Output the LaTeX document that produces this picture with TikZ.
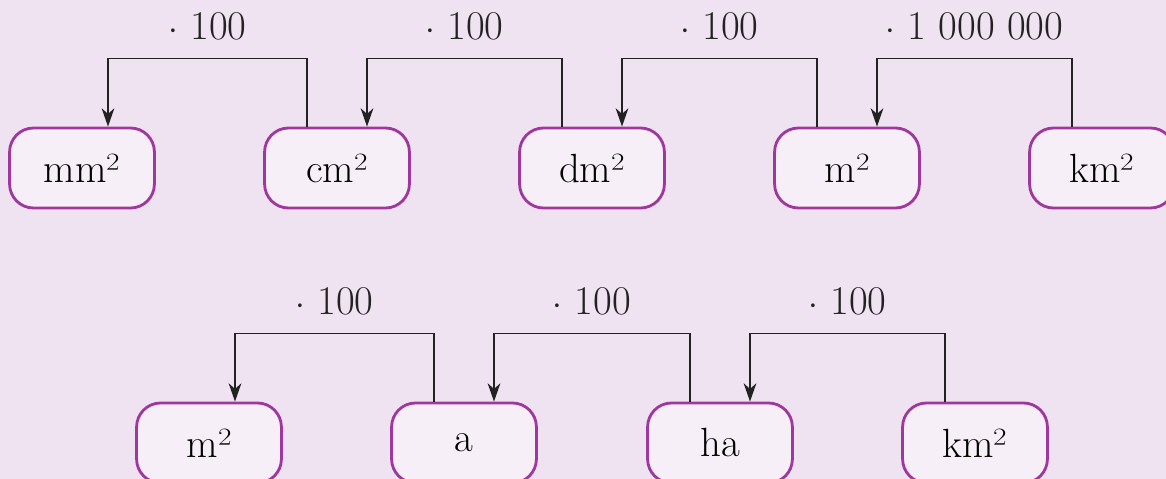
\documentclass[tikz,border=0pt]{standalone}
\usetikzlibrary{positioning,arrows.meta}
\definecolor{bgpink}{HTML}{F0E3F1}
\definecolor{boxfill}{HTML}{F7EFF7}
\definecolor{boxline}{HTML}{A0379E}
\definecolor{arrowc}{HTML}{222222}
\tikzset{
  unit/.style={draw=boxline,fill=boxfill,line width=2pt,rounded corners=0.6cm,
    minimum width=3.62cm,minimum height=2cm,font=\fontsize{29}{34}\selectfont},
  factor/.style={font=\fontsize{29}{34}\selectfont,inner sep=0pt},
  conv/.style={->,arrowc,line width=1.3pt}
}
\begin{document}
\begin{tikzpicture}[>={Stealth[length=13pt,width=9pt,inset=4pt]},x=0.025cm,y=-0.025cm]
\fill[bgpink](0,0)rectangle(1166,479);
\useasboundingbox(0,0)rectangle(1166,479);
% first row
\node[unit](mm)at(82,168){mm²};
\node[unit](cm)at(337,168){cm²};
\node[unit](dm)at(592,168){dm²};
\node[unit](m)at(847,168){m²};
\node[unit](km)at(1102,168){km²};
\draw[conv]([xshift=-0.75cm]cm.north)--++(0,-68)-|node[pos=.25,factor,above=0.45cm]{$\cdot$ 100}([xshift=0.65cm]mm.north);
\draw[conv]([xshift=-0.75cm]dm.north)--++(0,-68)-|node[pos=.25,factor,above=0.45cm]{$\cdot$ 100}([xshift=0.75cm]cm.north);
\draw[conv]([xshift=-0.75cm]m.north)--++(0,-68)-|node[pos=.25,factor,above=0.45cm]{$\cdot$ 100}([xshift=0.75cm]dm.north);
\draw[conv]([xshift=-0.75cm]km.north)--++(0,-68)-|node[pos=.25,factor,above=0.45cm]{$\cdot$ 1 000 000}([xshift=0.75cm]m.north);
% second row
\node[unit](m2)at(209,443){m²};
\node[unit](a)at(464,443){a};
\node[unit](ha)at(720,443){ha};
\node[unit](km2)at(975,443){km²};
\draw[conv]([xshift=-0.75cm]a.north)--++(0,-68)-|node[pos=.25,factor,above=0.45cm]{$\cdot$ 100}([xshift=0.65cm]m2.north);
\draw[conv]([xshift=-0.75cm]ha.north)--++(0,-68)-|node[pos=.25,factor,above=0.45cm]{$\cdot$ 100}([xshift=0.75cm]a.north);
\draw[conv]([xshift=-0.75cm]km2.north)--++(0,-68)-|node[pos=.25,factor,above=0.45cm]{$\cdot$ 100}([xshift=0.75cm]ha.north);
\end{tikzpicture}
\end{document}
